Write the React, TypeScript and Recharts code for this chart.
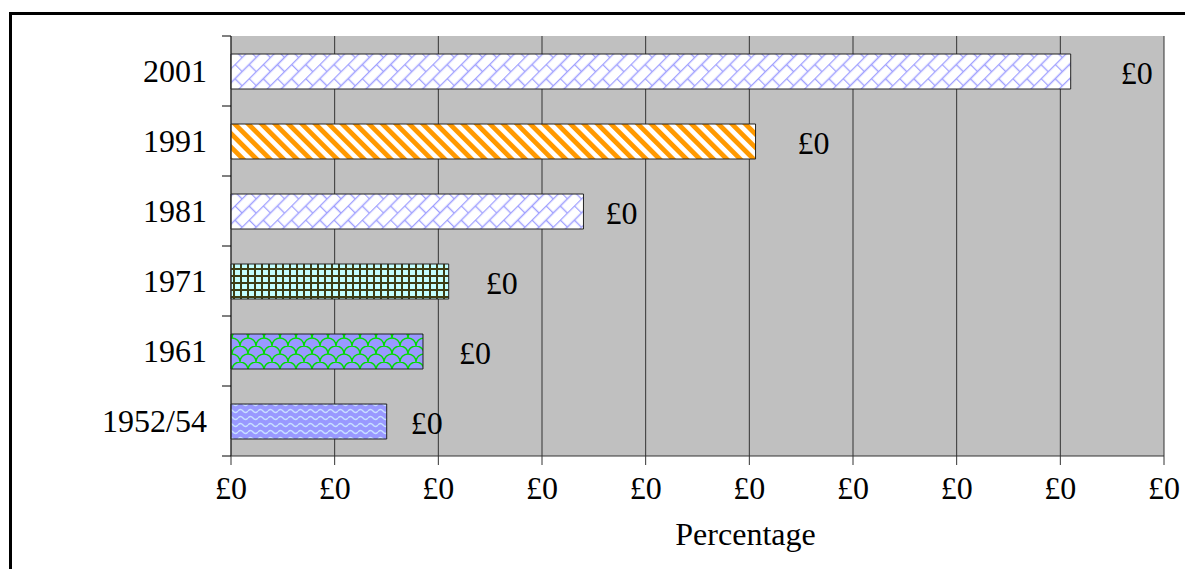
import React from 'react';
import { BarChart, Bar, XAxis, YAxis, CartesianGrid, Rectangle } from 'recharts';

const years = ['2001', '1991', '1981', '1971', '1961', '1952/54'];
const amounts = [0.405, 0.253, 0.17, 0.105, 0.0926, 0.0751];
const xTicks = [0, 0.05, 0.1, 0.15, 0.2, 0.25, 0.3, 0.35, 0.4, 0.45];

const fills = ['url(#brick)', 'url(#stripe)', 'url(#brick)', 'url(#plaid)', 'url(#scale)', 'url(#wave)'];
// gap between bar end and its value label, per bar
const labelGaps = [50, 42, 22, 37, 36, 24];

const data = years.map((year, i) => ({ year, amount: amounts[i] }));

const FONT = "'Times New Roman', 'Liberation Serif', serif";
const FS = 32;
const pounds = (v: number) => `£${Math.round(v)}`;
const BAND = 70;

const YearTick = (props: any) => {
  const { y, payload, index } = props;
  return (
    <g>
      <text x={199} y={y} dy="0.35em" textAnchor="end" fontFamily={FONT} fontSize={FS} fill="#000">
        {payload.value}
      </text>
      <line x1={214} x2={223} y1={y - BAND / 2} y2={y - BAND / 2} stroke="#000" />
      {index === years.length - 1 && (
        <line x1={214} x2={223} y1={y + BAND / 2} y2={y + BAND / 2} stroke="#000" />
      )}
    </g>
  );
};

// patterned bar with its value printed to the right
const PatternBar = (props: any) => {
  const { x, y, width, height, index, value } = props;
  const v = Array.isArray(value) ? value[1] : value;
  return (
    <g>
      <Rectangle x={x} y={y} width={width} height={height} fill={fills[index]} stroke="#222" strokeWidth={1} />
      <text x={x + width + labelGaps[index]} y={y + height / 2 + 1} dy="0.35em" fontFamily={FONT} fontSize={FS} fill="#000">
        {pounds(Number(v))}
      </text>
    </g>
  );
};

export default function App() {
  return (
    <div style={{ position: 'relative', width: 1177, height: 561, overflow: 'hidden', background: '#fff' }}>
      <div
        style={{
          position: 'absolute', left: 1, top: 4, width: 1300, height: 700,
          border: '3px solid #000', boxSizing: 'border-box',
        }}
      />
      <div style={{ position: 'absolute', left: 223, top: 28, width: 933, height: 420, background: '#c0c0c0' }} />
      <svg width="0" height="0" style={{ position: 'absolute' }}>
        <defs>
          <pattern id="brick" width="20" height="20" patternUnits="userSpaceOnUse" patternTransform="rotate(-45)">
            <rect width="20" height="20" fill="#fff" />
            <path d="M0,0.5 H20 M0,10.5 H20 M0.5,0 V10 M10.5,10 V20" stroke="#a0a0ff" strokeWidth="1.4" fill="none" />
          </pattern>
          <pattern id="stripe" width="9.5" height="9.5" patternUnits="userSpaceOnUse" patternTransform="rotate(-45)">
            <rect width="9.5" height="9.5" fill="#fff" />
            <rect width="4.8" height="9.5" fill="#ff9900" />
          </pattern>
          <pattern id="plaid" width="7" height="7" patternUnits="userSpaceOnUse" x="1" y="1">
            <rect width="7" height="7" fill="#c4ffff" />
            <path d="M0,1 H7 M1,0 V7" stroke="#3d3d14" strokeWidth="2" fill="none" />
          </pattern>
          <pattern id="scale" width="16" height="16" patternUnits="userSpaceOnUse" y="2">
            <rect width="16" height="16" fill="#9999ff" />
            <path d="M0,8 A8,8 0 0 1 16,8 M-8,16 A8,8 0 0 1 8,16 M8,16 A8,8 0 0 1 24,16 M-8,0 A8,8 0 0 1 8,0 M8,0 A8,8 0 0 1 24,0" stroke="#00dd00" strokeWidth="1.4" fill="none" />
          </pattern>
          <pattern id="wave" width="10" height="7" patternUnits="userSpaceOnUse">
            <rect width="10" height="7" fill="#9999ff" />
            <path d="M0,4 Q2.5,1 5,4 T10,4" stroke="#c8e0ff" strokeWidth="1.4" fill="none" />
          </pattern>
        </defs>
      </svg>
      <div style={{ position: 'absolute', left: 0, top: 0 }}>
        <BarChart
          width={1177}
          height={561}
          data={data}
          layout="vertical"
          margin={{ top: 28, right: 21, bottom: 0, left: 0 }}
        >
          <CartesianGrid horizontal={false} stroke="#333" />
          <XAxis
            type="number"
            domain={[0, 0.45]}
            ticks={xTicks}
            tickFormatter={pounds}
            height={113}
            tickSize={9}
            tickMargin={11}
            stroke="#333"
            tick={{ fill: '#000', fontFamily: FONT, fontSize: FS }}
            label={{ value: 'Percentage', position: 'insideBottom', offset: 24, dx: 48, fill: '#000', fontFamily: FONT, fontSize: FS }}
          />
          <YAxis
            type="category"
            dataKey="year"
            width={223}
            stroke="#333"
            tickLine={false}
            tick={<YearTick />}
            interval={0}
          />
          <Bar dataKey="amount" barSize={35} shape={PatternBar} isAnimationActive={false} />
        </BarChart>
      </div>
    </div>
  );
}
